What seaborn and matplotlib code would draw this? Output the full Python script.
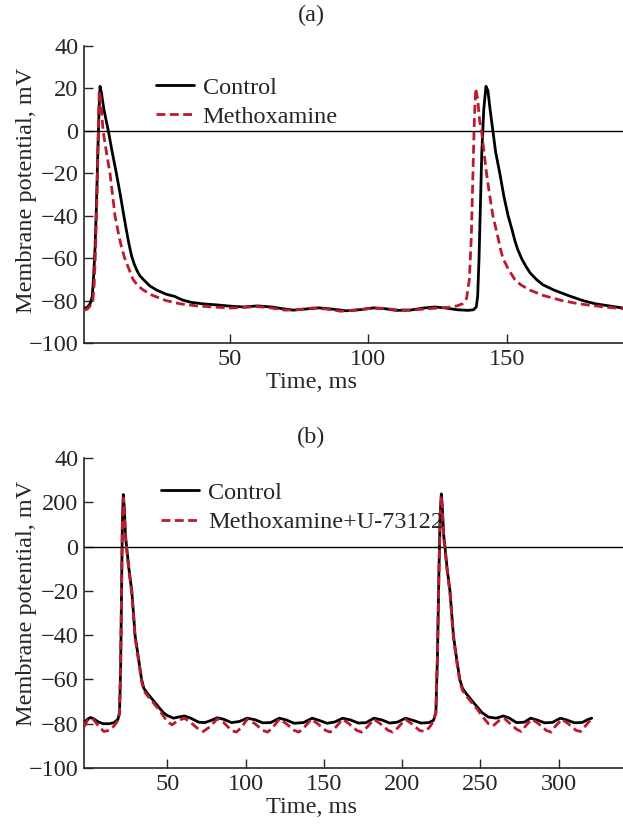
import numpy as np
import pandas as pd
import matplotlib
matplotlib.use("Agg")
import matplotlib.pyplot as plt
import seaborn as sns

# ---- panel (a) data: time (ms), membrane potential (mV) ----
a_ctrl_t = [-2.7, -1.5, -0.5, 0.3, 0.8, 1.3, 1.8, 2.3, 2.8, 3.1, 3.6, 4.5, 6.1, 7.5, 9.0, 10.4,
            11.7, 12.5, 13.5, 14.5, 15.5, 16.5, 17.5, 18.7, 21, 23.5, 27, 30, 33, 36, 40, 45,
            50, 55, 60, 65, 70, 73, 77, 82, 87, 92, 97, 102, 106, 110, 115, 120, 124, 128,
            132, 136, 138, 139, 139.5, 140, 140.5, 141, 141.7, 142.5, 143.2, 144, 145, 146,
            147.5, 149, 150.5, 152, 153, 154, 155.5, 157, 158.5, 160.7, 163, 167, 172, 177.5,
            182, 187, 192]
a_ctrl_v = [-83.5, -83.2, -81.5, -78, -68, -55, -35, -10, 12, 21, 18, 10, 0, -10, -20, -30,
            -40, -46, -53, -59, -63, -66, -68.3, -70, -73, -75, -77, -78, -79.8, -80.8, -81.5,
            -82, -82.6, -83, -82.5, -83, -84, -84.5, -84, -83.4, -84, -84.8, -84.3, -83.4,
            -83.8, -84.6, -84.5, -83.5, -83, -83.5, -84.3, -84.6, -84.3, -83, -78, -60, -35,
            -10, 10, 21, 19, 10, 0, -10, -20, -31, -40, -47, -52, -56, -60.5, -64, -67, -70,
            -72.5, -75, -77.5, -80, -81.5, -82.5, -83.5]
a_meth_t = [-2.7, -1.5, -0.5, 0.5, 1.0, 1.5, 2.0, 2.4, 2.8, 3.3, 4.2, 5.4, 6.7, 7.6, 8.5, 10,
            11, 12, 13.5, 15, 16.8, 18.7, 22, 27, 32, 38, 44, 50, 55, 60, 65, 70, 75, 80, 85,
            90, 95, 100, 105, 110, 115, 120, 125, 129, 132, 134, 135.5, 136.5, 137.2, 137.8,
            138.3, 138.8, 139.5, 140.2, 140.9, 141.8, 142.7, 143.8, 145, 146.8, 147.7, 148.6,
            150.5, 152.9, 155, 158.3, 163, 170, 176, 182, 187, 192]
a_meth_v = [-84.5, -84, -82.5, -80, -72, -55, -30, -5, 19, 15, 0, -10, -20, -30, -40, -50,
            -55.5, -60, -65, -70, -73, -75, -77.5, -80, -81.5, -82.5, -83, -83.5, -83.2,
            -82.8, -83.5, -84.5, -84.2, -83.5, -84, -85, -84.5, -83.8, -83.6, -84.3, -84.5,
            -84, -83.5, -83.2, -82.5, -81.5, -79, -70, -50, -20, 5, 20, 15, 5, 0, -10, -20,
            -30, -40, -50, -55.5, -60, -65, -70, -72.5, -75, -77.5, -80, -81.5, -82.5, -83.2,
            -83.8]

# ---- panel (b) data ----
b_ctrl_t = [-3.2, -1, 1, 3, 6, 9, 13, 16, 18.5, 19.5, 20.2, 20.8, 21.3, 21.9, 22.5, 23.3, 24,
            25.5, 27.3, 28.4, 29.4, 31.5, 33.6, 35, 37, 41.6, 44.5, 47.5, 50, 54, 57, 61, 65,
            70, 74, 78, 82, 86, 91, 96, 101, 106, 111, 116, 121.5, 126, 131, 137, 142.5, 147,
            152, 157, 162, 167, 172, 177, 182, 187, 192, 197, 202, 207, 212, 217, 220, 221.5,
            222.5, 223.5, 224.3, 225, 225.6, 226.5, 227.3, 228.7, 230.5, 231.6, 232.7, 234.6,
            236.8, 238.5, 241, 245, 248, 251, 255, 260, 264.5, 268, 273, 278, 282, 286, 291,
            296, 301, 305, 310, 315, 319, 321]
b_ctrl_v = [-79.5, -78, -77.2, -77.8, -79.2, -80, -80, -79.5, -78, -75, -55, -20, 10, 23.5,
            18, 5, 0, -10, -20, -30, -40, -50, -60, -64, -66, -70, -72.5, -75, -76.3, -77.5,
            -77, -76.5, -77.5, -79.3, -79.5, -78.5, -77.3, -78, -79.5, -79, -77.5, -78.2,
            -79.6, -79.5, -77.5, -78.3, -79.8, -79.5, -77.5, -78.5, -79.8, -79.2, -77.5,
            -78.3, -79.7, -79.5, -77.5, -78.3, -79.7, -79.3, -77.5, -78.5, -79.7, -79.5,
            -78.5, -75, -50, -10, 15, 23.8, 18, 5, 0, -10, -20, -30, -40, -50, -60, -64,
            -66.5, -70, -72.5, -75, -77, -77.5, -76.5, -77.3, -79.5, -79.3, -77.5, -78.3,
            -79.6, -79.4, -77.5, -78.3, -79.6, -79.4, -78, -77.5]
b_meth_t = [-3.2, -1, 1, 3, 6, 9.5, 13, 16, 18.5, 19.5, 20.2, 20.8, 21.3, 21.9, 22.5, 23.3,
            24, 25.5, 27.3, 28.4, 29.4, 31.5, 33.6, 35, 37, 41.6, 44.5, 47.5, 50, 53, 57, 61,
            65, 70, 73, 77, 82, 86, 91, 94, 97, 101, 106, 111, 114, 117, 121.5, 126, 131, 134,
            137, 142, 146, 151, 154, 157, 162, 166, 171, 174, 177, 182, 186, 191, 194, 197,
            202, 206, 211, 214, 217, 220, 221.5, 222.5, 223.5, 224.3, 225, 225.6, 226.5,
            227.3, 228.7, 230.5, 231.6, 232.7, 234.6, 236.8, 238.5, 241, 245, 248, 251, 255,
            258, 262, 265, 269, 273, 276, 280, 283, 287, 292, 295, 298, 302, 306, 311, 314,
            317, 320]
b_meth_v = [-81.5, -78.5, -77.5, -78.2, -81, -83.5, -83, -81, -78.5, -75, -55, -20, 10, 22,
            17, 4, -1, -11, -21, -31, -41, -51, -61, -65, -67, -71, -73.5, -76.5, -79, -80.5,
            -78.5, -77.5, -79.5, -82.5, -83.5, -81.5, -77.8, -79.5, -83, -83.8, -82, -78,
            -80, -83, -83.8, -82, -78, -80, -83, -83.8, -82, -78, -80, -83, -83.8, -82, -78,
            -80, -83, -83.8, -82, -78, -80, -83, -83.8, -82, -78, -80, -83, -83.5, -82,
            -79, -75, -50, -10, 15, 23, 17, 4, -1, -11, -21, -31, -41, -51, -61, -65, -67.5,
            -71, -73.5, -76.5, -80, -81, -78.5, -77.5, -80, -82.5, -83.5, -80, -78, -80,
            -83, -83.8, -81, -78, -80, -83, -83.5, -81, -78.5]

y_ticks = [-100, -80, -60, -40, -20, 0, 20, 40]
y_labels_a = ['\u2212100', '\u221280', '\u221260', '\u221240', '\u221220', '0', '20', '40']
y_labels_b = ['\u2212100', '\u221280', '\u221260', '\u221240', '\u221220', '0', '200', '40']
x_ticks_a = [50, 100, 150]
x_ticks_b = [50, 100, 150, 200, 250, 300]

sns.set_style('ticks')
plt.rcParams['font.family'] = ['Liberation Serif', 'DejaVu Serif']
fs = 17.5

red = '#bc1a2d'
dash = (0, (3.2, 1.6))

fig = plt.figure(figsize=(6.23, 8.25), dpi=100)
ax_a = fig.add_axes([0.1348, 0.5842, 0.8652, 0.3600])
ax_b = fig.add_axes([0.1348, 0.0691, 0.8652, 0.3757])

panels = [
    (ax_a, a_ctrl_t, a_ctrl_v, a_meth_t, a_meth_v, 'Methoxamine', (-2.7, 192), x_ticks_a,
     y_labels_a, '(a)', 1 - 15 / 825, (0.115, 0.93), -0.098, 0.515),
    (ax_b, b_ctrl_t, b_ctrl_v, b_meth_t, b_meth_v, 'Methoxamine+U-73122', (-3.2, 341), x_ticks_b,
     y_labels_b, '(b)', 1 - 437 / 825, (0.125, 0.955), -0.094, 0.53),
]

for ax, ct, cv, mt, mv, mlabel, xlim, xt, ylab, title, ty, lpos, xly, yly in panels:
    ax.axhline(0, color='black', lw=1.0, zorder=1)
    sns.lineplot(x=ct, y=cv, ax=ax, color='black', lw=2.0, sort=False, estimator=None,
                 label='Control', zorder=2)
    sns.lineplot(x=mt, y=mv, ax=ax, color=red, lw=2.0, sort=False, estimator=None,
                 label=mlabel, linestyle=dash, zorder=3)
    ax.set_xlim(*xlim)
    ax.set_ylim(-100, 40)
    ax.set_xticks(xt)
    ax.set_yticks(y_ticks)
    ax.set_yticklabels(ylab)
    sns.despine(ax=ax)
    for s in ['left', 'bottom']:
        ax.spines[s].set_linewidth(1.2)
    ax.tick_params(direction='in', length=6.5, width=1.0, labelsize=fs, pad=4)
    ax.set_xlabel('Time, ms', fontsize=fs)
    ax.set_ylabel('Membrane potential, mV', fontsize=fs)
    ax.xaxis.set_label_coords(0.423, xly)
    ax.yaxis.set_label_coords(-0.087, yly)
    ax.legend(loc='upper left', bbox_to_anchor=lpos, frameon=False, fontsize=fs,
              handlelength=1.56, handletextpad=0.37, labelspacing=0.3, borderaxespad=0)
    fig.text(0.5, ty, title, ha='center', va='center', fontsize=fs)

fig.savefig('out.png', dpi=100)
